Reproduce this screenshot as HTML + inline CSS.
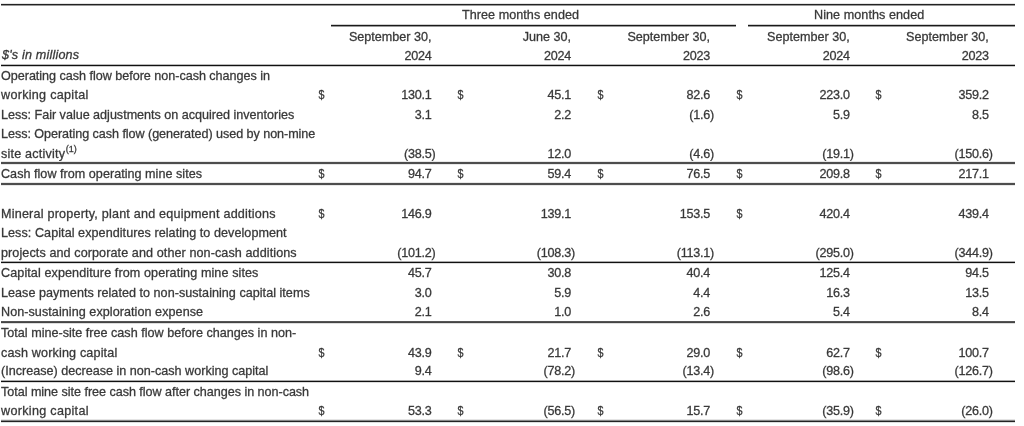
<!DOCTYPE html>
<html><head><meta charset="utf-8"><style>
html,body{margin:0;padding:0;background:#fff;width:1024px;height:426px;overflow:hidden}
#w{position:absolute;left:0;top:0;width:1024px;height:426px;will-change:transform;-webkit-text-stroke:0.3px #444;font-family:"Liberation Sans",sans-serif;font-size:12.6px;color:#333}
.t{position:absolute;line-height:16px;white-space:nowrap}
.r{text-align:right}
.d{transform:scaleX(0.85);transform-origin:50% 50%}
.n{letter-spacing:-0.25px}
.l{position:absolute;height:1px}
sup{font-size:9px;letter-spacing:0;vertical-align:0;position:relative;top:-5.5px;line-height:0;margin-left:0.5px}
i{font-style:italic}
</style></head><body><div id="w">

<div class="t" style="left:462px;top:7.4px;letter-spacing:0.047px">Three months ended</div>
<div class="t" style="left:814px;top:7.4px;letter-spacing:0.062px">Nine months ended</div>
<div class="t r" style="right:592.5px;top:29.0px">September 30,</div>
<div class="t r n" style="right:592.5px;top:48.0px">2024</div>
<div class="t r" style="right:453.0px;top:29.0px">June 30,</div>
<div class="t r n" style="right:453.0px;top:48.0px">2024</div>
<div class="t r" style="right:314.0px;top:29.0px">September 30,</div>
<div class="t r n" style="right:314.0px;top:48.0px">2023</div>
<div class="t r" style="right:174.3px;top:29.0px">September 30,</div>
<div class="t r n" style="right:174.3px;top:48.0px">2024</div>
<div class="t r" style="right:35.3px;top:29.0px">September 30,</div>
<div class="t r n" style="right:35.3px;top:48.0px">2023</div>
<div class="t" style="left:2px;top:47.1px;letter-spacing:0.186px"><i>$'s in millions</i></div>
<div class="t" style="left:1.0px;top:68px;letter-spacing:-0.027px">Operating cash flow before non-cash changes in</div>
<div class="t" style="left:1.0px;top:87.4px;letter-spacing:0.286px">working capital</div>
<div class="t d" style="left:318.0px;top:87.4px">$</div>
<div class="t r n" style="right:592.5px;top:87.4px">130.1</div>
<div class="t d" style="left:457.4px;top:87.4px">$</div>
<div class="t r n" style="right:453.0px;top:87.4px">45.1</div>
<div class="t d" style="left:596.7px;top:87.4px">$</div>
<div class="t r n" style="right:314.0px;top:87.4px">82.6</div>
<div class="t d" style="left:735.7px;top:87.4px">$</div>
<div class="t r n" style="right:174.3px;top:87.4px">223.0</div>
<div class="t d" style="left:875.3px;top:87.4px">$</div>
<div class="t r n" style="right:35.3px;top:87.4px">359.2</div>
<div class="t" style="left:1.0px;top:107px;letter-spacing:-0.016px">Less: Fair value adjustments on acquired inventories</div>
<div class="t r n" style="right:592.5px;top:107px">3.1</div>
<div class="t r n" style="right:453.0px;top:107px">2.2</div>
<div class="t r n" style="right:310.0px;top:107px">(1.6)</div>
<div class="t r n" style="right:174.3px;top:107px">5.9</div>
<div class="t r n" style="right:35.3px;top:107px">8.5</div>
<div class="t" style="left:1.0px;top:126px;letter-spacing:-0.053px">Less: Operating cash flow (generated) used by non-mine</div>
<div class="t" style="left:1.0px;top:145.7px;letter-spacing:0.200px">site activity<sup>(1)</sup></div>
<div class="t r n" style="right:588.5px;top:145.7px">(38.5)</div>
<div class="t r n" style="right:453.0px;top:145.7px">12.0</div>
<div class="t r n" style="right:310.0px;top:145.7px">(4.6)</div>
<div class="t r n" style="right:170.3px;top:145.7px">(19.1)</div>
<div class="t r n" style="right:31.3px;top:145.7px">(150.6)</div>
<div class="t" style="left:1.0px;top:165.8px;letter-spacing:0.024px">Cash flow from operating mine sites</div>
<div class="t d" style="left:318.0px;top:165.8px">$</div>
<div class="t r n" style="right:592.5px;top:165.8px">94.7</div>
<div class="t d" style="left:457.4px;top:165.8px">$</div>
<div class="t r n" style="right:453.0px;top:165.8px">59.4</div>
<div class="t d" style="left:596.7px;top:165.8px">$</div>
<div class="t r n" style="right:314.0px;top:165.8px">76.5</div>
<div class="t d" style="left:735.7px;top:165.8px">$</div>
<div class="t r n" style="right:174.3px;top:165.8px">209.8</div>
<div class="t d" style="left:875.3px;top:165.8px">$</div>
<div class="t r n" style="right:35.3px;top:165.8px">217.1</div>
<div class="t" style="left:1.0px;top:206px;letter-spacing:0.204px">Mineral property, plant and equipment additions</div>
<div class="t d" style="left:318.0px;top:206px">$</div>
<div class="t r n" style="right:592.5px;top:206px">146.9</div>
<div class="t r n" style="right:453.0px;top:206px">139.1</div>
<div class="t r n" style="right:314.0px;top:206px">153.5</div>
<div class="t d" style="left:735.7px;top:206px">$</div>
<div class="t r n" style="right:174.3px;top:206px">420.4</div>
<div class="t r n" style="right:35.3px;top:206px">439.4</div>
<div class="t" style="left:1.0px;top:225px;letter-spacing:0.057px">Less: Capital expenditures relating to development</div>
<div class="t" style="left:1.0px;top:245px;letter-spacing:0.088px">projects and corporate and other non-cash additions</div>
<div class="t r n" style="right:588.5px;top:245px">(101.2)</div>
<div class="t r n" style="right:449.0px;top:245px">(108.3)</div>
<div class="t r n" style="right:310.0px;top:245px">(113.1)</div>
<div class="t r n" style="right:170.3px;top:245px">(295.0)</div>
<div class="t r n" style="right:31.3px;top:245px">(344.9)</div>
<div class="t" style="left:1.0px;top:264.9px;letter-spacing:0.091px">Capital expenditure from operating mine sites</div>
<div class="t r n" style="right:592.5px;top:264.9px">45.7</div>
<div class="t r n" style="right:453.0px;top:264.9px">30.8</div>
<div class="t r n" style="right:314.0px;top:264.9px">40.4</div>
<div class="t r n" style="right:174.3px;top:264.9px">125.4</div>
<div class="t r n" style="right:35.3px;top:264.9px">94.5</div>
<div class="t" style="left:1.0px;top:284.6px;letter-spacing:0.026px">Lease payments related to non-sustaining capital items</div>
<div class="t r n" style="right:592.5px;top:284.6px">3.0</div>
<div class="t r n" style="right:453.0px;top:284.6px">5.9</div>
<div class="t r n" style="right:314.0px;top:284.6px">4.4</div>
<div class="t r n" style="right:174.3px;top:284.6px">16.3</div>
<div class="t r n" style="right:35.3px;top:284.6px">13.5</div>
<div class="t" style="left:1.0px;top:303.6px;letter-spacing:0.055px">Non-sustaining exploration expense</div>
<div class="t r n" style="right:592.5px;top:303.6px">2.1</div>
<div class="t r n" style="right:453.0px;top:303.6px">1.0</div>
<div class="t r n" style="right:314.0px;top:303.6px">2.6</div>
<div class="t r n" style="right:174.3px;top:303.6px">5.4</div>
<div class="t r n" style="right:35.3px;top:303.6px">8.4</div>
<div class="t" style="left:1.0px;top:324.6px;letter-spacing:0.008px">Total mine-site free cash flow before changes in non-</div>
<div class="t" style="left:1.0px;top:344.5px;letter-spacing:0.147px">cash working capital</div>
<div class="t d" style="left:318.0px;top:344.5px">$</div>
<div class="t r n" style="right:592.5px;top:344.5px">43.9</div>
<div class="t d" style="left:457.4px;top:344.5px">$</div>
<div class="t r n" style="right:453.0px;top:344.5px">21.7</div>
<div class="t d" style="left:596.7px;top:344.5px">$</div>
<div class="t r n" style="right:314.0px;top:344.5px">29.0</div>
<div class="t d" style="left:735.7px;top:344.5px">$</div>
<div class="t r n" style="right:174.3px;top:344.5px">62.7</div>
<div class="t d" style="left:875.3px;top:344.5px">$</div>
<div class="t r n" style="right:35.3px;top:344.5px">100.7</div>
<div class="t" style="left:1.0px;top:363px">(Increase) decrease in non-cash working capital</div>
<div class="t r n" style="right:592.5px;top:363px">9.4</div>
<div class="t r n" style="right:449.0px;top:363px">(78.2)</div>
<div class="t r n" style="right:310.0px;top:363px">(13.4)</div>
<div class="t r n" style="right:170.3px;top:363px">(98.6)</div>
<div class="t r n" style="right:31.3px;top:363px">(126.7)</div>
<div class="t" style="left:1.0px;top:383.7px;letter-spacing:-0.036px">Total mine site free cash flow after changes in non-cash</div>
<div class="t" style="left:1.0px;top:402.7px;letter-spacing:0.300px">working capital</div>
<div class="t d" style="left:318.0px;top:402.7px">$</div>
<div class="t r n" style="right:592.5px;top:402.7px">53.3</div>
<div class="t d" style="left:457.4px;top:402.7px">$</div>
<div class="t r n" style="right:449.0px;top:402.7px">(56.5)</div>
<div class="t d" style="left:596.7px;top:402.7px">$</div>
<div class="t r n" style="right:314.0px;top:402.7px">15.7</div>
<div class="t d" style="left:735.7px;top:402.7px">$</div>
<div class="t r n" style="right:170.3px;top:402.7px">(35.9)</div>
<div class="t d" style="left:875.3px;top:402.7px">$</div>
<div class="t r n" style="right:31.3px;top:402.7px">(26.0)</div>
<div class="l" style="top:3px;left:1px;width:1014px;background:#e4e4e4"></div>
<div class="l" style="top:4px;left:1px;width:1014px;background:#222"></div>
<div class="l" style="top:5px;left:1px;width:1014px;background:#999"></div>
<div class="l" style="top:24px;left:331px;width:405px;background:#d0d0d0"></div>
<div class="l" style="top:25px;left:331px;width:405px;background:#1a1a1a"></div>
<div class="l" style="top:26px;left:331px;width:405px;background:#999"></div>
<div class="l" style="top:24px;left:748px;width:267px;background:#d0d0d0"></div>
<div class="l" style="top:25px;left:748px;width:267px;background:#1a1a1a"></div>
<div class="l" style="top:26px;left:748px;width:267px;background:#999"></div>
<div class="l" style="top:64px;left:1px;width:1014px;background:#bbb"></div>
<div class="l" style="top:65px;left:1px;width:1014px;background:#111"></div>
<div class="l" style="top:66px;left:1px;width:1014px;background:#ccc"></div>
<div class="l" style="top:161px;left:1px;width:1014px;background:#e8e8e8"></div>
<div class="l" style="top:162px;left:1px;width:1014px;background:#4d4d4d"></div>
<div class="l" style="top:163px;left:1px;width:1014px;background:#4d4d4d"></div>
<div class="l" style="top:164px;left:1px;width:1014px;background:#e8e8e8"></div>
<div class="l" style="top:182px;left:1px;width:1014px;background:#e8e8e8"></div>
<div class="l" style="top:183px;left:1px;width:1014px;background:#4d4d4d"></div>
<div class="l" style="top:184px;left:1px;width:1014px;background:#4d4d4d"></div>
<div class="l" style="top:185px;left:1px;width:1014px;background:#e8e8e8"></div>
<div class="l" style="top:261px;left:1px;width:1014px;background:#aaa"></div>
<div class="l" style="top:262px;left:1px;width:1014px;background:#111"></div>
<div class="l" style="top:263px;left:1px;width:1014px;background:#ddd"></div>
<div class="l" style="top:321px;left:1px;width:1014px;background:#555"></div>
<div class="l" style="top:322px;left:1px;width:1014px;background:#444"></div>
<div class="l" style="top:323px;left:1px;width:1014px;background:#ddd"></div>
<div class="l" style="top:380px;left:1px;width:1014px;background:#aaa"></div>
<div class="l" style="top:381px;left:1px;width:1014px;background:#111"></div>
<div class="l" style="top:382px;left:1px;width:1014px;background:#ddd"></div>
<div class="l" style="top:419px;left:1px;width:1014px;background:#e4e4e4"></div>
<div class="l" style="top:420px;left:1px;width:1014px;background:#888"></div>
<div class="l" style="top:421px;left:1px;width:1014px;background:#222"></div>
<div class="l" style="top:422px;left:1px;width:1014px;background:#ddd"></div>
</div></body></html>
